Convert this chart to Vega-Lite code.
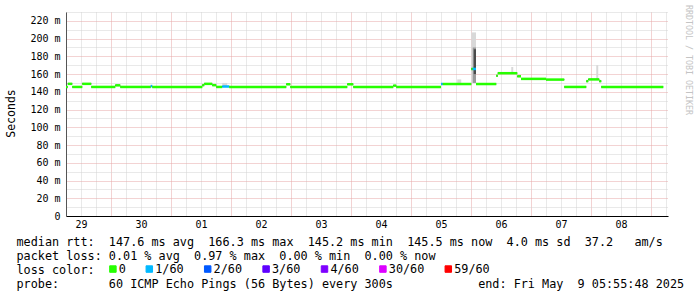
{
  "$schema": "https://vega.github.io/schema/vega-lite/v6.json",
  "width": 602,
  "height": 204,
  "autosize": {"type": "none"},
  "padding": {"left": 66, "top": 12, "right": 29, "bottom": 81},
  "background": "white",
  "config": {"view": {"stroke": null}},
  "title": {"text": "RRDTOOL / TOBI OETIKER", "orient": "right", "anchor": "start", "frame": "group", "font": "DejaVu Sans Mono", "fontSize": 8.3, "fontWeight": "normal", "color": "#c4c4c4", "offset": 1, "dx": -7},
  "datasets": {
    "median": [
      {"t0": "2025-04-29T06:00:00Z", "t1": "2025-04-29T06:42:00Z", "rtt": 145.5, "loss": "0"},
      {"t0": "2025-04-29T06:42:00Z", "t1": "2025-04-29T08:30:00Z", "rtt": 149, "loss": "0"},
      {"t0": "2025-04-29T08:30:00Z", "t1": "2025-04-29T12:30:00Z", "rtt": 145.5, "loss": "0"},
      {"t0": "2025-04-29T12:30:00Z", "t1": "2025-04-29T16:06:00Z", "rtt": 149, "loss": "0"},
      {"t0": "2025-04-29T16:06:00Z", "t1": "2025-04-30T01:42:00Z", "rtt": 145.5, "loss": "0"},
      {"t0": "2025-04-30T01:42:00Z", "t1": "2025-04-30T03:42:00Z", "rtt": 147.3, "loss": "0"},
      {"t0": "2025-04-30T03:42:00Z", "t1": "2025-04-30T15:54:00Z", "rtt": 145.5, "loss": "0"},
      {"t0": "2025-04-30T15:54:00Z", "t1": "2025-04-30T16:30:00Z", "rtt": 146.5, "loss": "1/60"},
      {"t0": "2025-04-30T16:30:00Z", "t1": "2025-05-01T12:30:00Z", "rtt": 145.5, "loss": "0"},
      {"t0": "2025-05-01T12:30:00Z", "t1": "2025-05-01T13:18:00Z", "rtt": 147.5, "loss": "0"},
      {"t0": "2025-05-01T13:18:00Z", "t1": "2025-05-01T16:30:00Z", "rtt": 149, "loss": "0"},
      {"t0": "2025-05-01T16:30:00Z", "t1": "2025-05-01T18:06:00Z", "rtt": 147.5, "loss": "0"},
      {"t0": "2025-05-01T18:06:00Z", "t1": "2025-05-01T20:30:00Z", "rtt": 145.5, "loss": "0"},
      {"t0": "2025-05-01T20:30:00Z", "t1": "2025-05-01T23:18:00Z", "rtt": 146, "loss": "1/60"},
      {"t0": "2025-05-01T23:18:00Z", "t1": "2025-05-02T22:06:00Z", "rtt": 145.5, "loss": "0"},
      {"t0": "2025-05-02T22:06:00Z", "t1": "2025-05-02T23:42:00Z", "rtt": 148.5, "loss": "0"},
      {"t0": "2025-05-02T23:42:00Z", "t1": "2025-05-03T22:30:00Z", "rtt": 145.5, "loss": "0"},
      {"t0": "2025-05-03T22:30:00Z", "t1": "2025-05-04T00:54:00Z", "rtt": 148.5, "loss": "0"},
      {"t0": "2025-05-04T00:54:00Z", "t1": "2025-05-04T16:54:00Z", "rtt": 145.5, "loss": "0"},
      {"t0": "2025-05-04T16:54:00Z", "t1": "2025-05-04T18:06:00Z", "rtt": 147, "loss": "0"},
      {"t0": "2025-05-04T18:06:00Z", "t1": "2025-05-05T12:00:00Z", "rtt": 145.5, "loss": "0"},
      {"t0": "2025-05-05T12:00:00Z", "t1": "2025-05-05T12:42:00Z", "rtt": 148.8, "loss": "1/60"},
      {"t0": "2025-05-05T12:42:00Z", "t1": "2025-05-06T00:06:00Z", "rtt": 148.8, "loss": "0"},
      {"t0": "2025-05-06T00:06:00Z", "t1": "2025-05-06T00:42:00Z", "rtt": 165.8, "loss": "0"},
      {"t0": "2025-05-06T00:42:00Z", "t1": "2025-05-06T02:00:00Z", "rtt": 165.8, "loss": "1/60"},
      {"t0": "2025-05-06T02:00:00Z", "t1": "2025-05-06T10:06:00Z", "rtt": 148.8, "loss": "0"},
      {"t0": "2025-05-06T10:06:00Z", "t1": "2025-05-06T10:42:00Z", "rtt": 158, "loss": "0"},
      {"t0": "2025-05-06T10:42:00Z", "t1": "2025-05-06T18:30:00Z", "rtt": 161, "loss": "0"},
      {"t0": "2025-05-06T18:30:00Z", "t1": "2025-05-06T20:00:00Z", "rtt": 157.5, "loss": "0"},
      {"t0": "2025-05-06T20:00:00Z", "t1": "2025-05-07T06:00:00Z", "rtt": 154.6, "loss": "0"},
      {"t0": "2025-05-07T06:00:00Z", "t1": "2025-05-07T13:18:00Z", "rtt": 153.8, "loss": "0"},
      {"t0": "2025-05-07T13:18:00Z", "t1": "2025-05-07T22:06:00Z", "rtt": 145.5, "loss": "0"},
      {"t0": "2025-05-07T22:06:00Z", "t1": "2025-05-07T22:54:00Z", "rtt": 152, "loss": "0"},
      {"t0": "2025-05-07T22:54:00Z", "t1": "2025-05-08T03:18:00Z", "rtt": 154, "loss": "0"},
      {"t0": "2025-05-08T03:18:00Z", "t1": "2025-05-08T04:06:00Z", "rtt": 152, "loss": "0"},
      {"t0": "2025-05-08T04:06:00Z", "t1": "2025-05-09T04:54:00Z", "rtt": 145.5, "loss": "0"}
    ],
    "smoke": [
      {"t0": "2025-05-01T20:30:00Z", "t1": "2025-05-01T22:30:00Z", "rtt": 146.5, "hi": 150, "level": "outer"},
      {"t0": "2025-05-05T18:30:00Z", "t1": "2025-05-05T20:06:00Z", "rtt": 149, "hi": 154, "level": "outer"},
      {"t0": "2025-05-06T00:06:00Z", "t1": "2025-05-06T02:00:00Z", "rtt": 150, "hi": 207, "level": "outer"},
      {"t0": "2025-05-06T00:42:00Z", "t1": "2025-05-06T02:00:00Z", "rtt": 150, "hi": 190, "level": "mid"},
      {"t0": "2025-05-06T01:06:00Z", "t1": "2025-05-06T02:00:00Z", "rtt": 160, "hi": 188, "level": "inner"},
      {"t0": "2025-05-06T16:06:00Z", "t1": "2025-05-06T16:54:00Z", "rtt": 161, "hi": 168, "level": "outer"},
      {"t0": "2025-05-08T02:06:00Z", "t1": "2025-05-08T02:54:00Z", "rtt": 154, "hi": 170, "level": "outer"}
    ]
  },
  "encoding": {
    "x": {
      "field": "t0", "type": "temporal",
      "scale": {"type": "utc", "domain": [{"year": 2025, "month": 4, "date": 29, "hours": 6, "utc": true}, {"year": 2025, "month": 5, "date": 9, "hours": 6, "minutes": 48, "utc": true}]},
      "axis": {
        "values": [
          {"year": 2025, "month": 4, "date": 29, "hours": 6, "utc": true}, {"year": 2025, "month": 4, "date": 29, "hours": 12, "utc": true}, {"year": 2025, "month": 4, "date": 29, "hours": 18, "utc": true},
          {"year": 2025, "month": 4, "date": 30, "hours": 0, "utc": true}, {"year": 2025, "month": 4, "date": 30, "hours": 6, "utc": true}, {"year": 2025, "month": 4, "date": 30, "hours": 12, "utc": true}, {"year": 2025, "month": 4, "date": 30, "hours": 18, "utc": true},
          {"year": 2025, "month": 5, "date": 1, "hours": 0, "utc": true}, {"year": 2025, "month": 5, "date": 1, "hours": 6, "utc": true}, {"year": 2025, "month": 5, "date": 1, "hours": 12, "utc": true}, {"year": 2025, "month": 5, "date": 1, "hours": 18, "utc": true},
          {"year": 2025, "month": 5, "date": 2, "hours": 0, "utc": true}, {"year": 2025, "month": 5, "date": 2, "hours": 6, "utc": true}, {"year": 2025, "month": 5, "date": 2, "hours": 12, "utc": true}, {"year": 2025, "month": 5, "date": 2, "hours": 18, "utc": true},
          {"year": 2025, "month": 5, "date": 3, "hours": 0, "utc": true}, {"year": 2025, "month": 5, "date": 3, "hours": 6, "utc": true}, {"year": 2025, "month": 5, "date": 3, "hours": 12, "utc": true}, {"year": 2025, "month": 5, "date": 3, "hours": 18, "utc": true},
          {"year": 2025, "month": 5, "date": 4, "hours": 0, "utc": true}, {"year": 2025, "month": 5, "date": 4, "hours": 6, "utc": true}, {"year": 2025, "month": 5, "date": 4, "hours": 12, "utc": true}, {"year": 2025, "month": 5, "date": 4, "hours": 18, "utc": true},
          {"year": 2025, "month": 5, "date": 5, "hours": 0, "utc": true}, {"year": 2025, "month": 5, "date": 5, "hours": 6, "utc": true}, {"year": 2025, "month": 5, "date": 5, "hours": 12, "utc": true}, {"year": 2025, "month": 5, "date": 5, "hours": 18, "utc": true},
          {"year": 2025, "month": 5, "date": 6, "hours": 0, "utc": true}, {"year": 2025, "month": 5, "date": 6, "hours": 6, "utc": true}, {"year": 2025, "month": 5, "date": 6, "hours": 12, "utc": true}, {"year": 2025, "month": 5, "date": 6, "hours": 18, "utc": true},
          {"year": 2025, "month": 5, "date": 7, "hours": 0, "utc": true}, {"year": 2025, "month": 5, "date": 7, "hours": 6, "utc": true}, {"year": 2025, "month": 5, "date": 7, "hours": 12, "utc": true}, {"year": 2025, "month": 5, "date": 7, "hours": 18, "utc": true},
          {"year": 2025, "month": 5, "date": 8, "hours": 0, "utc": true}, {"year": 2025, "month": 5, "date": 8, "hours": 6, "utc": true}, {"year": 2025, "month": 5, "date": 8, "hours": 12, "utc": true}, {"year": 2025, "month": 5, "date": 8, "hours": 18, "utc": true},
          {"year": 2025, "month": 5, "date": 9, "hours": 0, "utc": true}, {"year": 2025, "month": 5, "date": 9, "hours": 6, "utc": true}
        ],
        "grid": true,
        "gridColor": {"condition": {"test": "utchours(datum.value) == 0", "value": "#e6a6a6"}, "value": "#d2d2d2"},
        "gridDash": [1, 1],
        "ticks": false,
        "domain": true, "domainColor": "#000000",
        "labelExpr": "utchours(datum.value) == 12 ? utcFormat(datum.value, '%d') : ''",
        "labelOverlap": false, "labelFlush": false,
        "labelFont": "DejaVu Sans Mono", "labelFontSize": 10, "labelColor": "#000000", "labelPadding": 3,
        "title": [
          "median\u00a0rtt:\u00a0\u00a0147.6\u00a0ms\u00a0avg\u00a0\u00a0166.3\u00a0ms\u00a0max\u00a0\u00a0145.2\u00a0ms\u00a0min\u00a0\u00a0145.5\u00a0ms\u00a0now\u00a0\u00a04.0\u00a0ms\u00a0sd\u00a0\u00a037.2\u00a0\u00a0\u00a0am/s",
          "packet\u00a0loss:\u00a00.01\u00a0%\u00a0avg\u00a0\u00a00.97\u00a0%\u00a0max\u00a0\u00a00.00\u00a0%\u00a0min\u00a0\u00a00.00\u00a0%\u00a0now",
          "loss\u00a0color:",
          "probe:\u00a0\u00a0\u00a0\u00a0\u00a0\u00a0\u00a060\u00a0ICMP\u00a0Echo\u00a0Pings\u00a0(56\u00a0Bytes)\u00a0every\u00a0300s\u00a0\u00a0\u00a0\u00a0\u00a0\u00a0\u00a0\u00a0\u00a0\u00a0\u00a0\u00a0end:\u00a0Fri\u00a0May\u00a0\u00a09\u00a005:55:48\u00a02025"
        ],
        "titleFont": "DejaVu Sans Mono", "titleFontSize": 11.8, "titleFontWeight": "normal", "titleColor": "#000000",
        "titleAlign": "left", "titleBaseline": "alphabetic", "titleLineHeight": 14.3,
        "titleX": -50, "titleY": 29, "titleAngle": 0
      }
    },
    "x2": {"field": "t1"},
    "y": {
      "field": "rtt", "type": "quantitative",
      "scale": {"domain": [0, 230], "nice": false, "zero": false},
      "axis": {
        "values": [0, 10, 20, 30, 40, 50, 60, 70, 80, 90, 100, 110, 120, 130, 140, 150, 160, 170, 180, 190, 200, 210, 220, 230],
        "grid": true,
        "gridColor": {"condition": {"test": "datum.value % 20 == 0", "value": "#e6a6a6"}, "value": "#d2d2d2"},
        "gridDash": [1, 1],
        "ticks": false,
        "domain": true, "domainColor": "#555555",
        "labelExpr": "datum.value % 20 == 0 ? (datum.value == 0 ? '0' : datum.value + ' m') : ''",
        "labelOverlap": false, "labelFlush": false,
        "labelFont": "DejaVu Sans Mono", "labelFontSize": 10, "labelColor": "#000000", "labelPadding": 6,
        "title": "Seconds",
        "titleFont": "DejaVu Sans Mono", "titleFontSize": 11.5, "titleFontWeight": "normal", "titleColor": "#000000",
        "titleX": -55, "titleY": 101, "titleAngle": -90, "titleAlign": "center", "titleBaseline": "middle"
      }
    }
  },
  "layer": [
    {
      "data": {"name": "smoke"},
      "transform": [{"filter": "datum.level == 'outer'"}],
      "mark": {"type": "rect", "color": "#d8d8d8"},
      "encoding": {"y2": {"field": "hi"}}
    },
    {
      "data": {"name": "smoke"},
      "transform": [{"filter": "datum.level == 'mid'"}],
      "mark": {"type": "rect", "color": "#9a9a9a"},
      "encoding": {"y2": {"field": "hi"}}
    },
    {
      "data": {"name": "smoke"},
      "transform": [{"filter": "datum.level == 'inner'"}],
      "mark": {"type": "rect", "color": "#4a4a4a"},
      "encoding": {"y2": {"field": "hi"}}
    },
    {
      "data": {"name": "median"},
      "mark": {"type": "line", "interpolate": "step-after", "color": "#000000", "strokeWidth": 1},
      "encoding": {}
    },
    {
      "data": {"name": "median"},
      "mark": {"type": "rule", "strokeWidth": 2.5},
      "encoding": {
        "color": {
          "field": "loss", "type": "nominal",
          "scale": {"domain": ["0", "1/60", "2/60", "3/60", "4/60", "30/60", "59/60"], "range": ["#26ff00", "#00b8ff", "#0059ff", "#5e00ff", "#7e00ff", "#dd00ff", "#ff0000"]},
          "legend": {
            "title": null,
            "orient": "none", "legendX": 41, "legendY": 251,
            "direction": "horizontal",
            "labelFont": "DejaVu Sans Mono", "labelFontSize": 11.8, "labelColor": "#000000", "labelOffset": 0,
            "columnPadding": 17.4,
            "padding": 0,
            "symbolType": "square", "symbolSize": 42, "symbolStrokeColor": "#000000", "symbolStrokeWidth": 1, "symbolOpacity": 1,
            "encode": {"symbols": {"update": {"shape": {"value": "square"}, "size": {"value": 42}, "fill": {"scale": "color", "field": "value"}, "stroke": {"value": "#000000"}, "strokeWidth": {"value": 1}}}}
          }
        }
      }
    }
  ]
}
